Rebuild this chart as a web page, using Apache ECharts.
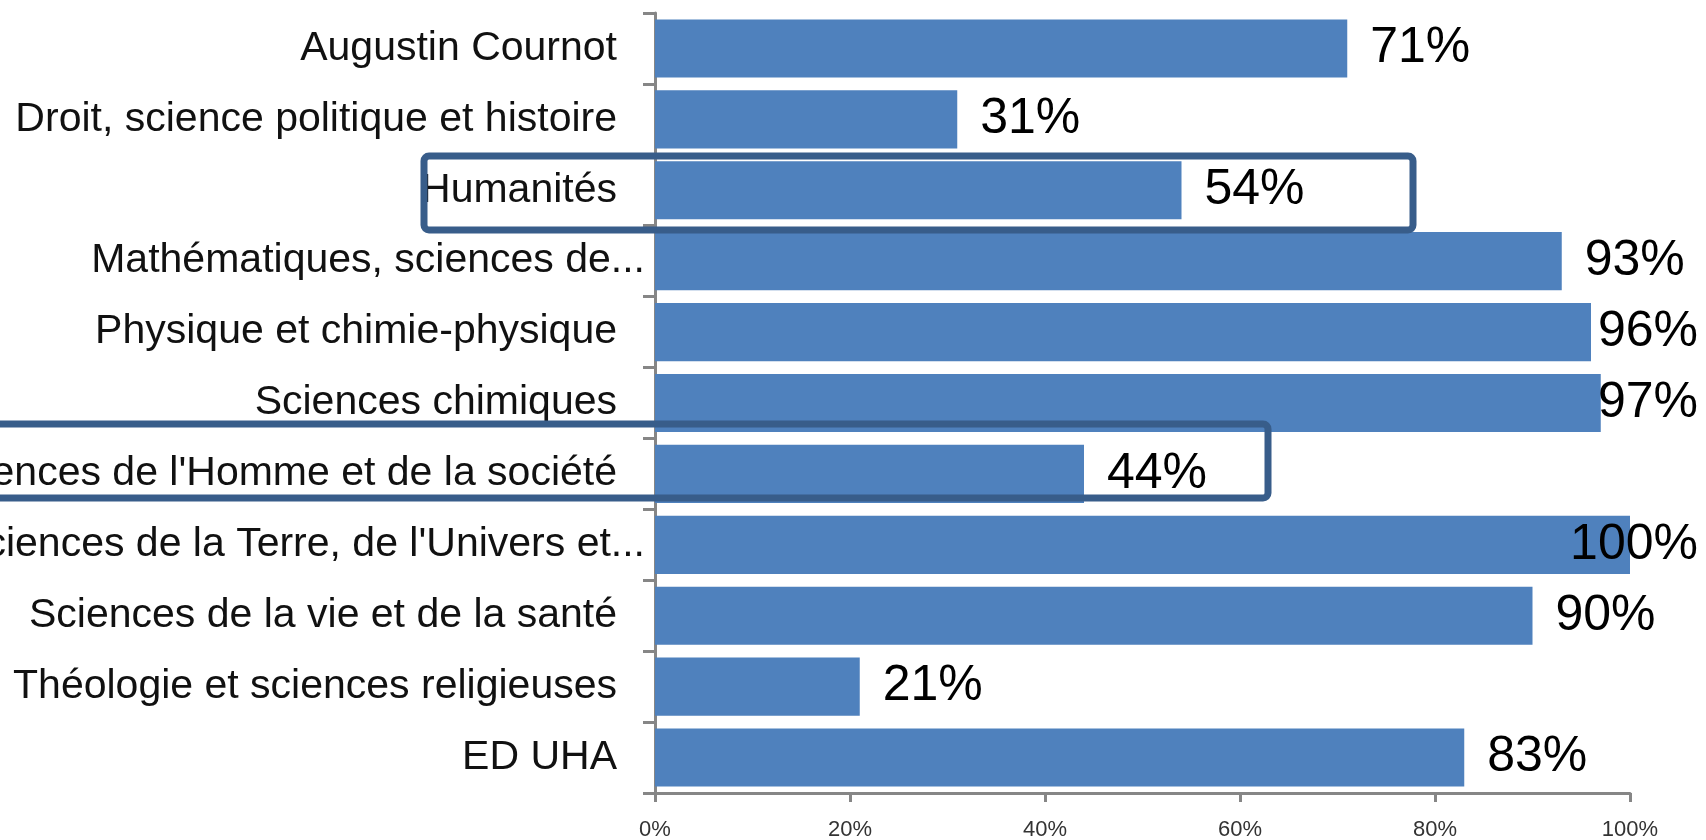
<!DOCTYPE html>
<html>
<head>
<meta charset="utf-8">
<script src="https://cdn.jsdelivr.net/npm/echarts@6/dist/echarts.min.js"></script>
<style>
	html, body { margin: 0; padding: 0; background: #fff; }
	#main { width: 1706px; height: 840px; }
</style>
</head>
<body>
<div id="main"></div>
<script>
var categories = [
	"Augustin Cournot",
	"Droit, science politique et histoire",
	"Humanités",
	"Mathématiques, sciences de...",
	"Physique et chimie-physique",
	"Sciences chimiques",
	"Sciences de l'Homme et de la société",
	"Sciences de la Terre, de l'Univers et...",
	"Sciences de la vie et de la santé",
	"Théologie et sciences religieuses",
	"ED UHA"
];
var rates = [71, 31, 54, 93, 96, 97, 44, 100, 90, 21, 83];
var tickMin = 0, tickMax = 100, tickStep = 20;

var myChart = echarts.init(document.getElementById("main"));
var font = "'Liberation Sans', Arial, sans-serif";

var option = {
	animation: false,
	grid: {
		left: 655,
		right: 76,
		top: 13,
		bottom: 47,
		outerBoundsMode: 'none',
		containLabel: false
	},
	xAxis: {
		type: 'value',
		min: tickMin,
		max: tickMax,
		interval: tickStep,
		splitLine: { show: false },
		axisLine: { show: true, lineStyle: { color: '#868686', width: 3 } },
		axisTick: { show: true, length: 9, lineStyle: { color: '#868686', width: 3 } },
		axisLabel: {
			formatter: '{value}%',
			fontFamily: font,
			fontSize: 22,
			color: '#333',
			margin: 26
		}
	},
	yAxis: {
		type: 'category',
		inverse: true,
		data: categories,
		axisLine: { show: true, lineStyle: { color: '#868686', width: 3 } },
		axisTick: { show: true, length: 12, lineStyle: { color: '#868686', width: 3 } },
		axisLabel: {
			margin: 10,
			fontFamily: font,
			fontSize: 41,
			color: '#111',
			// labels cut by Excel sit closer to the axis
			formatter: function(v) {
				if(v.slice(-3) == '...') {
					return '{t|' + v + '}';
				}
				return '{p|' + v + '}';
			},
			rich: {
				t: { fontFamily: font, fontSize: 41, color: '#111' },
				p: { fontFamily: font, fontSize: 41, color: '#111', padding: [0, 28, 0, 0] }
			}
		}
	},
	series: [{
		type: 'bar',
		data: rates,
		barCategoryGap: '18%',
		itemStyle: { color: '#4F81BD' },
		label: {
			show: true,
			position: 'right',
			distance: 23,
			formatter: '{c}%',
			fontFamily: font,
			fontSize: 50,
			color: '#000'
		}
	}],
	graphic: [{
		type: 'rect',
		z: 100,
		shape: { x: 424, y: 156, width: 989, height: 74, r: 5 },
		style: { fill: 'none', stroke: '#385D8A', lineWidth: 7 }
	}, {
		type: 'rect',
		z: 100,
		shape: { x: -20, y: 424, width: 1288, height: 74, r: 5 },
		style: { fill: 'none', stroke: '#385D8A', lineWidth: 7 }
	}]
};

// keep the value labels inside the chart, as Excel does
option.series[0].labelLayout = function(params) {
	var r = params.labelRect;
	var edge = myChart.getWidth() - 8;
	if(r.x + r.width > edge) {
		return { x: edge - r.width, y: r.y, align: 'left', verticalAlign: 'top' };
	}
	return {};
};

myChart.setOption(option);
</script>
</body>
</html>
